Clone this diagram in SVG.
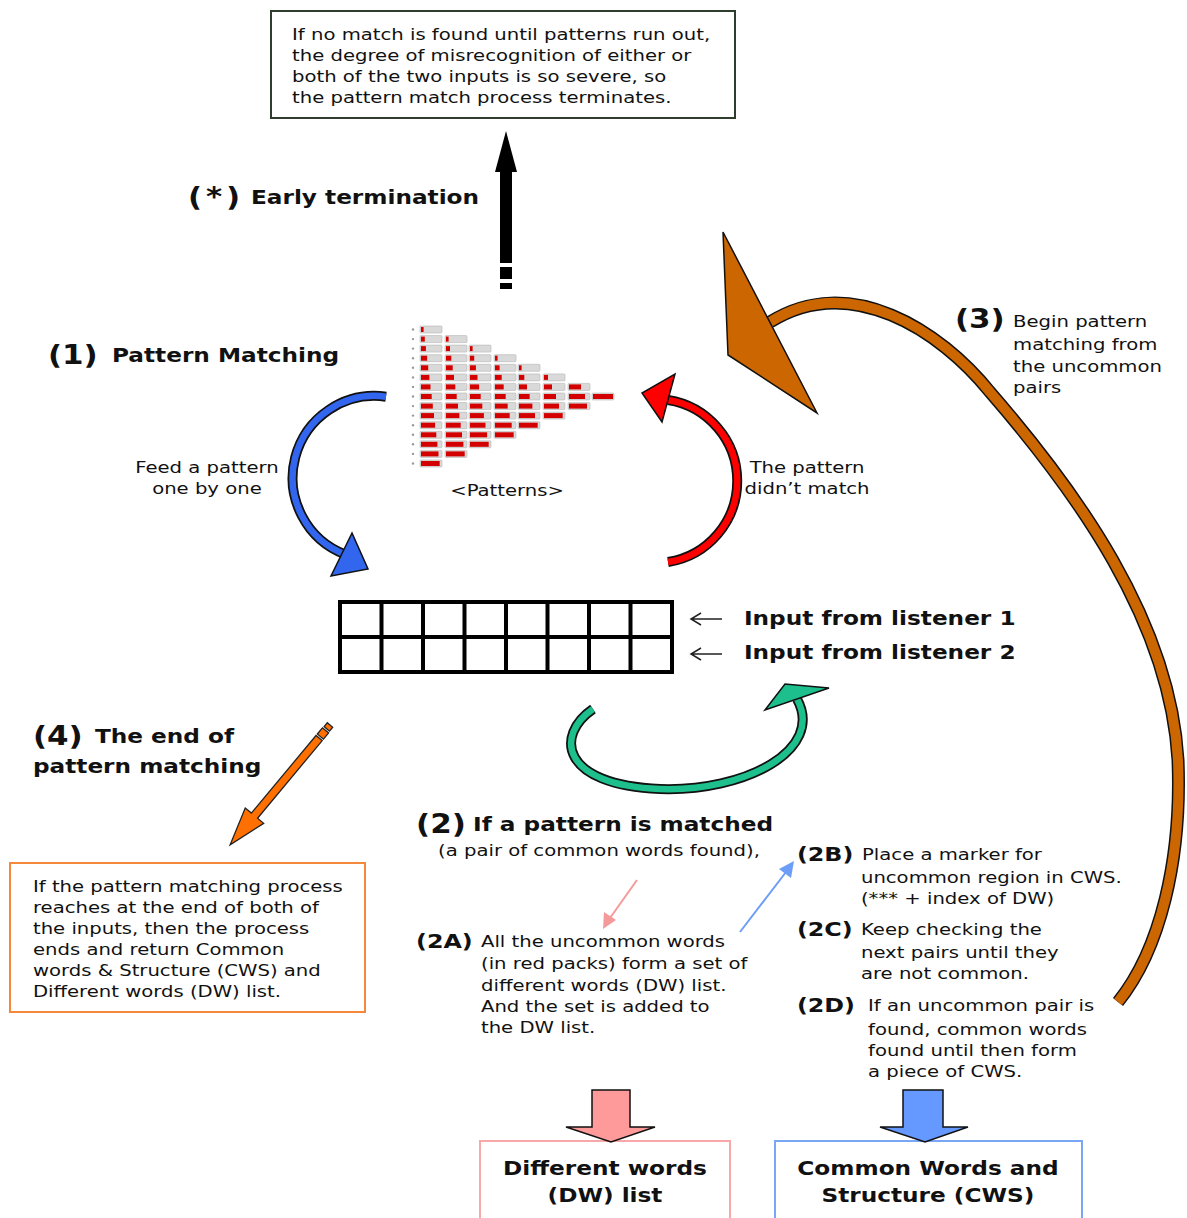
<svg xmlns="http://www.w3.org/2000/svg" xmlns:xlink="http://www.w3.org/1999/xlink" width="1187" height="1218" viewBox="0 0 1187 1218">
<defs>
<style>
.t{font-family:"DejaVu Sans",Verdana,sans-serif;font-size:16.5px;fill:#111}
.b{font-weight:bold;font-size:19.5px}
.n{font-weight:bold;font-size:26px}
.m{font-weight:bold;font-size:20px}
.mid{text-anchor:middle}
.bar{fill:#d9d9d9;stroke:#b5b5b5;stroke-width:0.6}
.r{fill:#d40000}
.dot{fill:#9a9a9a}
.ol{fill:none;stroke:#111;stroke-width:10}
.head{stroke:#111;stroke-width:1.5;stroke-linejoin:miter}
</style>
<rect id="bar" width="22" height="7" rx="1"/>
</defs>
<rect width="1187" height="1218" fill="#fff"/>

<!-- top note box -->
<g id="node-termination-note">
<rect x="271" y="11" width="464" height="107" fill="#fff" stroke="#2f3d2f" stroke-width="2"/>
</g>

<!-- pattern triangle -->
<g id="node-patterns">
<g class="dots">
<circle class="dot" cx="413" cy="329.5" r="1.2"/><circle class="dot" cx="413" cy="339.1" r="1.2"/><circle class="dot" cx="413" cy="348.6" r="1.2"/><circle class="dot" cx="413" cy="358.2" r="1.2"/><circle class="dot" cx="413" cy="367.8" r="1.2"/><circle class="dot" cx="413" cy="377.4" r="1.2"/><circle class="dot" cx="413" cy="386.9" r="1.2"/><circle class="dot" cx="413" cy="396.5" r="1.2"/><circle class="dot" cx="413" cy="406.1" r="1.2"/><circle class="dot" cx="413" cy="415.6" r="1.2"/><circle class="dot" cx="413" cy="425.2" r="1.2"/><circle class="dot" cx="413" cy="434.8" r="1.2"/><circle class="dot" cx="413" cy="444.3" r="1.2"/><circle class="dot" cx="413" cy="453.9" r="1.2"/><circle class="dot" cx="413" cy="463.5" r="1.2"/>
</g>
<!-- column 0 -->
<use href="#bar" class="bar" x="420" y="326"/><rect class="r" x="421" y="327" width="2.6" height="5"/>
<use href="#bar" class="bar" x="420" y="335.6"/><rect class="r" x="421" y="336.6" width="3.8" height="5"/>
<use href="#bar" class="bar" x="420" y="345.1"/><rect class="r" x="421" y="346.1" width="4.9" height="5"/>
<use href="#bar" class="bar" x="420" y="354.7"/><rect class="r" x="421" y="355.7" width="6.1" height="5"/>
<use href="#bar" class="bar" x="420" y="364.3"/><rect class="r" x="421" y="365.3" width="7.2" height="5"/>
<use href="#bar" class="bar" x="420" y="373.9"/><rect class="r" x="421" y="374.9" width="8.4" height="5"/>
<use href="#bar" class="bar" x="420" y="383.4"/><rect class="r" x="421" y="384.4" width="9.5" height="5"/>
<use href="#bar" class="bar" x="420" y="393"/><rect class="r" x="421" y="394" width="10.7" height="5"/>
<use href="#bar" class="bar" x="420" y="402.6"/><rect class="r" x="421" y="403.6" width="11.8" height="5"/>
<use href="#bar" class="bar" x="420" y="412.1"/><rect class="r" x="421" y="413.1" width="13" height="5"/>
<use href="#bar" class="bar" x="420" y="421.7"/><rect class="r" x="421" y="422.7" width="14.1" height="5"/>
<use href="#bar" class="bar" x="420" y="431.3"/><rect class="r" x="421" y="432.3" width="15.3" height="5"/>
<use href="#bar" class="bar" x="420" y="440.8"/><rect class="r" x="421" y="441.8" width="16.4" height="5"/>
<use href="#bar" class="bar" x="420" y="450.4"/><rect class="r" x="421" y="451.4" width="17.5" height="5"/>
<use href="#bar" class="bar" x="420" y="460"/><rect class="r" x="421" y="461" width="18.7" height="5"/>
<!-- column 1 -->
<use href="#bar" class="bar" x="445" y="335.6"/><rect class="r" x="446" y="336.6" width="2.6" height="5"/>
<use href="#bar" class="bar" x="445" y="345.1"/><rect class="r" x="446" y="346.1" width="4" height="5"/>
<use href="#bar" class="bar" x="445" y="354.7"/><rect class="r" x="446" y="355.7" width="5.3" height="5"/>
<use href="#bar" class="bar" x="445" y="364.3"/><rect class="r" x="446" y="365.3" width="6.7" height="5"/>
<use href="#bar" class="bar" x="445" y="373.9"/><rect class="r" x="446" y="374.9" width="8" height="5"/>
<use href="#bar" class="bar" x="445" y="383.4"/><rect class="r" x="446" y="384.4" width="9.3" height="5"/>
<use href="#bar" class="bar" x="445" y="393"/><rect class="r" x="446" y="394" width="10.7" height="5"/>
<use href="#bar" class="bar" x="445" y="402.6"/><rect class="r" x="446" y="403.6" width="12" height="5"/>
<use href="#bar" class="bar" x="445" y="412.1"/><rect class="r" x="446" y="413.1" width="13.4" height="5"/>
<use href="#bar" class="bar" x="445" y="421.7"/><rect class="r" x="446" y="422.7" width="14.7" height="5"/>
<use href="#bar" class="bar" x="445" y="431.3"/><rect class="r" x="446" y="432.3" width="16" height="5"/>
<use href="#bar" class="bar" x="445" y="440.8"/><rect class="r" x="446" y="441.8" width="17.4" height="5"/>
<use href="#bar" class="bar" x="445" y="450.4"/><rect class="r" x="446" y="451.4" width="18.7" height="5"/>
<!-- column 2 -->
<use href="#bar" class="bar" x="469" y="345.1"/><rect class="r" x="470" y="346.1" width="2.6" height="5"/>
<use href="#bar" class="bar" x="469" y="354.7"/><rect class="r" x="470" y="355.7" width="4.2" height="5"/>
<use href="#bar" class="bar" x="469" y="364.3"/><rect class="r" x="470" y="365.3" width="5.9" height="5"/>
<use href="#bar" class="bar" x="469" y="373.9"/><rect class="r" x="470" y="374.9" width="7.5" height="5"/>
<use href="#bar" class="bar" x="469" y="383.4"/><rect class="r" x="470" y="384.4" width="9.1" height="5"/>
<use href="#bar" class="bar" x="469" y="393"/><rect class="r" x="470" y="394" width="10.7" height="5"/>
<use href="#bar" class="bar" x="469" y="402.6"/><rect class="r" x="470" y="403.6" width="12.3" height="5"/>
<use href="#bar" class="bar" x="469" y="412.1"/><rect class="r" x="470" y="413.1" width="13.9" height="5"/>
<use href="#bar" class="bar" x="469" y="421.7"/><rect class="r" x="470" y="422.7" width="15.5" height="5"/>
<use href="#bar" class="bar" x="469" y="431.3"/><rect class="r" x="470" y="432.3" width="17.1" height="5"/>
<use href="#bar" class="bar" x="469" y="440.8"/><rect class="r" x="470" y="441.8" width="18.7" height="5"/>
<!-- column 3 -->
<use href="#bar" class="bar" x="494" y="354.7"/><rect class="r" x="495" y="355.7" width="2.6" height="5"/>
<use href="#bar" class="bar" x="494" y="364.3"/><rect class="r" x="495" y="365.3" width="4.6" height="5"/>
<use href="#bar" class="bar" x="494" y="373.9"/><rect class="r" x="495" y="374.9" width="6.7" height="5"/>
<use href="#bar" class="bar" x="494" y="383.4"/><rect class="r" x="495" y="384.4" width="8.7" height="5"/>
<use href="#bar" class="bar" x="494" y="393"/><rect class="r" x="495" y="394" width="10.7" height="5"/>
<use href="#bar" class="bar" x="494" y="402.6"/><rect class="r" x="495" y="403.6" width="12.7" height="5"/>
<use href="#bar" class="bar" x="494" y="412.1"/><rect class="r" x="495" y="413.1" width="14.7" height="5"/>
<use href="#bar" class="bar" x="494" y="421.7"/><rect class="r" x="495" y="422.7" width="16.7" height="5"/>
<use href="#bar" class="bar" x="494" y="431.3"/><rect class="r" x="495" y="432.3" width="18.7" height="5"/>
<!-- column 4 -->
<use href="#bar" class="bar" x="518" y="364.3"/><rect class="r" x="519" y="365.3" width="2.6" height="5"/>
<use href="#bar" class="bar" x="518" y="373.9"/><rect class="r" x="519" y="374.9" width="5.3" height="5"/>
<use href="#bar" class="bar" x="518" y="383.4"/><rect class="r" x="519" y="384.4" width="8" height="5"/>
<use href="#bar" class="bar" x="518" y="393"/><rect class="r" x="519" y="394" width="10.7" height="5"/>
<use href="#bar" class="bar" x="518" y="402.6"/><rect class="r" x="519" y="403.6" width="13.4" height="5"/>
<use href="#bar" class="bar" x="518" y="412.1"/><rect class="r" x="519" y="413.1" width="16" height="5"/>
<use href="#bar" class="bar" x="518" y="421.7"/><rect class="r" x="519" y="422.7" width="18.7" height="5"/>
<!-- column 5 -->
<use href="#bar" class="bar" x="543" y="373.9"/><rect class="r" x="544" y="374.9" width="4" height="5"/>
<use href="#bar" class="bar" x="543" y="383.4"/><rect class="r" x="544" y="384.4" width="8" height="5"/>
<use href="#bar" class="bar" x="543" y="393"/><rect class="r" x="544" y="394" width="12" height="5"/>
<use href="#bar" class="bar" x="543" y="402.6"/><rect class="r" x="544" y="403.6" width="15" height="5"/>
<use href="#bar" class="bar" x="543" y="412.1"/><rect class="r" x="544" y="413.1" width="18.7" height="5"/>
<!-- column 6 -->
<use href="#bar" class="bar" x="568" y="383.4"/><rect class="r" x="569" y="384.4" width="12" height="5"/>
<use href="#bar" class="bar" x="568" y="393"/><rect class="r" x="569" y="394" width="16" height="5"/>
<use href="#bar" class="bar" x="568" y="402.6"/><rect class="r" x="569" y="403.6" width="18" height="5"/>
<!-- column 7 -->
<use href="#bar" class="bar" x="592" y="393"/><rect class="r" x="593" y="394" width="20" height="5"/>
</g>

<!-- two-row input buffer -->
<g id="node-input-grid" fill="none" stroke="#000" stroke-width="4">
<rect x="340" y="602" width="332" height="70"/>
<path d="M340,637H672M381.5,602V672M423,602V672M464.5,602V672M506,602V672M547.5,602V672M589,602V672M630.5,602V672"/>
</g>

<g id="node-end-note">
<rect x="10" y="863" width="355" height="149" fill="#fff" stroke="#f5883a" stroke-width="2"/>
</g>
<g id="node-dw-list">
<rect x="480" y="1141" width="250" height="90" fill="#fff" stroke="#f8a8a8" stroke-width="2"/>
</g>
<g id="node-cws">
<rect x="775" y="1141" width="307" height="90" fill="#fff" stroke="#7aa6f6" stroke-width="2"/>
</g>

<!-- connectors -->
<g id="connectors">
<!-- early termination -->
<g fill="#000">
<polygon points="506,131 517,172 495,172"/>
<rect x="500" y="171" width="12" height="92"/>
<rect x="500" y="267" width="12" height="12"/>
<rect x="500" y="283" width="12" height="6"/>
</g>
<!-- feed a pattern -->
<path class="ol" d="M386,396.7 A82,82 0 0 0 345.6,554.6"/>
<path d="M386,396.7 A82,82 0 0 0 345.6,554.6" fill="none" stroke="#3366ee" stroke-width="6.5"/>
<polygon class="head" points="352,533 331,576 368,569" fill="#3366ee"/>
<!-- pattern did not match -->
<path class="ol" d="M668,562 A82,82 0 0 0 668,400"/>
<path d="M668,562 A82,82 0 0 0 668,400" fill="none" stroke="#ff0000" stroke-width="6.5"/>
<polygon class="head" points="675,374 662,422 642,393" fill="#ff0000"/>
<!-- matched: shift along inputs -->
<path class="ol" d="M593,709 C555,735 560,785 660,789 C745,792 825,750 797,699"/>
<path d="M593,709 C555,735 560,785 660,789 C745,792 825,750 797,699" fill="none" stroke="#1dc08c" stroke-width="6.5"/>
<polygon class="head" points="765,710 785,684 829,688" fill="#1dc08c"/>
<!-- restart from uncommon pairs -->
<path d="M770,322 C850,272 940,330 990,392 C1075,490 1170,620 1178,760 C1182,860 1160,950 1118,1002" fill="none" stroke="#111" stroke-width="13"/>
<path d="M770,322 C850,272 940,330 990,392 C1075,490 1170,620 1178,760 C1182,860 1160,950 1118,1002" fill="none" stroke="#cc6600" stroke-width="10"/>
<polygon class="head" points="723,232 817,413 728,355" fill="#cc6600"/>
<!-- end of matching -->
<g transform="translate(330,725) rotate(129.8)" fill="#ff7000" stroke="#222" stroke-width="1.3">
<rect x="0" y="-3.5" width="5" height="7"/>
<rect x="7" y="-4" width="8" height="8"/>
<polygon points="17,-4 118,-4 118,-12 156,0 118,12 118,4 17,4"/>
</g>
<!-- input labels -->
<path d="M722,619H692M701,613L691,619L701,625M722,654H692M701,648L691,654L701,660" fill="none" stroke="#222" stroke-width="1.5"/>
<!-- 2 -> 2A / 2A -> 2B -->
<line x1="637" y1="880" x2="610" y2="918" stroke="#f59a9a" stroke-width="2"/>
<polygon points="603,929 604,912 616,920" fill="#f59a9a"/>
<line x1="740" y1="932" x2="786" y2="872" stroke="#6d9ef7" stroke-width="2"/>
<polygon points="794,861 791,878 779,869" fill="#6d9ef7"/>
<!-- results -->
<polygon points="592,1090 630,1090 630,1127 655,1127 611,1142 566,1127 592,1127" fill="#ff9a9a" stroke="#111" stroke-width="1.5"/>
<polygon points="903,1090 943,1090 943,1127 968,1127 925,1142 880,1127 903,1127" fill="#6699ff" stroke="#111" stroke-width="1.5"/>
</g>

<!-- labels (set slightly wide) -->
<g id="labels" class="t" transform="scale(1.19,1)">
<text x="245.4" y="40">If no match is found until patterns run out,</text>
<text x="245.4" y="61">the degree of misrecognition of either or</text>
<text x="245.4" y="82">both of the two inputs is so severe, so</text>
<text x="245.4" y="103">the pattern match process terminates.</text>

<text class="n" x="158" y="206" textLength="43.7">(*)</text>
<text class="b" x="210.9" y="204">Early termination</text>

<text class="n" x="40.3" y="364">(1)</text>
<text class="b" x="94.1" y="362">Pattern Matching</text>

<text class="mid" x="173.9" y="473">Feed a pattern</text>
<text class="mid" x="173.9" y="494">one by one</text>
<text class="mid" x="426.1" y="496">&lt;Patterns&gt;</text>
<text class="mid" x="678.2" y="473">The pattern</text>
<text class="mid" x="678.2" y="494">didn’t match</text>

<text class="b" x="625.2" y="625">Input from listener 1</text>
<text class="b" x="625.2" y="659">Input from listener 2</text>

<text class="n" x="27.7" y="745">(4)</text>
<text class="b" x="79.8" y="743">The end of</text>
<text class="b" x="27.7" y="773">pattern matching</text>

<text x="27.7" y="892">If the pattern matching process</text>
<text x="27.7" y="913">reaches at the end of both of</text>
<text x="27.7" y="934">the inputs, then the process</text>
<text x="27.7" y="955">ends and return Common</text>
<text x="27.7" y="976">words &amp; Structure (CWS) and</text>
<text x="27.7" y="997">Different words (DW) list.</text>

<text class="n" x="349.6" y="833">(2)</text>
<text class="b" x="397.5" y="831">If a pattern is matched</text>
<text x="368.1" y="856">(a pair of common words found),</text>

<text class="m" x="349.6" y="948">(2A)</text>
<text x="404.2" y="947">All the uncommon words</text>
<text x="404.2" y="969">(in red packs) form a set of</text>
<text x="404.2" y="991">different words (DW) list.</text>
<text x="404.2" y="1012">And the set is added to</text>
<text x="404.2" y="1033">the DW list.</text>

<text class="m" x="669.7" y="861">(2B)</text>
<text x="724.4" y="860">Place a marker for</text>
<text x="723.5" y="883">uncommon region in CWS.</text>
<text x="723.5" y="904">(*** + index of DW)</text>

<text class="m" x="669.7" y="936">(2C)</text>
<text x="723.5" y="935">Keep checking the</text>
<text x="723.5" y="958">next pairs until they</text>
<text x="723.5" y="979">are not common.</text>

<text class="m" x="669.7" y="1012">(2D)</text>
<text x="729.4" y="1011">If an uncommon pair is</text>
<text x="729.4" y="1035">found, common words</text>
<text x="729.4" y="1056">found until then form</text>
<text x="729.4" y="1077">a piece of CWS.</text>

<text class="n" x="802.5" y="328">(3)</text>
<text x="851.3" y="327">Begin pattern</text>
<text x="851.3" y="350">matching from</text>
<text x="851.3" y="372">the uncommon</text>
<text x="851.3" y="393">pairs</text>

<text class="b mid" x="508.4" y="1175">Different words</text>
<text class="b mid" x="508.4" y="1202">(DW) list</text>
<text class="b mid" x="779.8" y="1175">Common Words and</text>
<text class="b mid" x="779.8" y="1202">Structure (CWS)</text>
</g>
</svg>
